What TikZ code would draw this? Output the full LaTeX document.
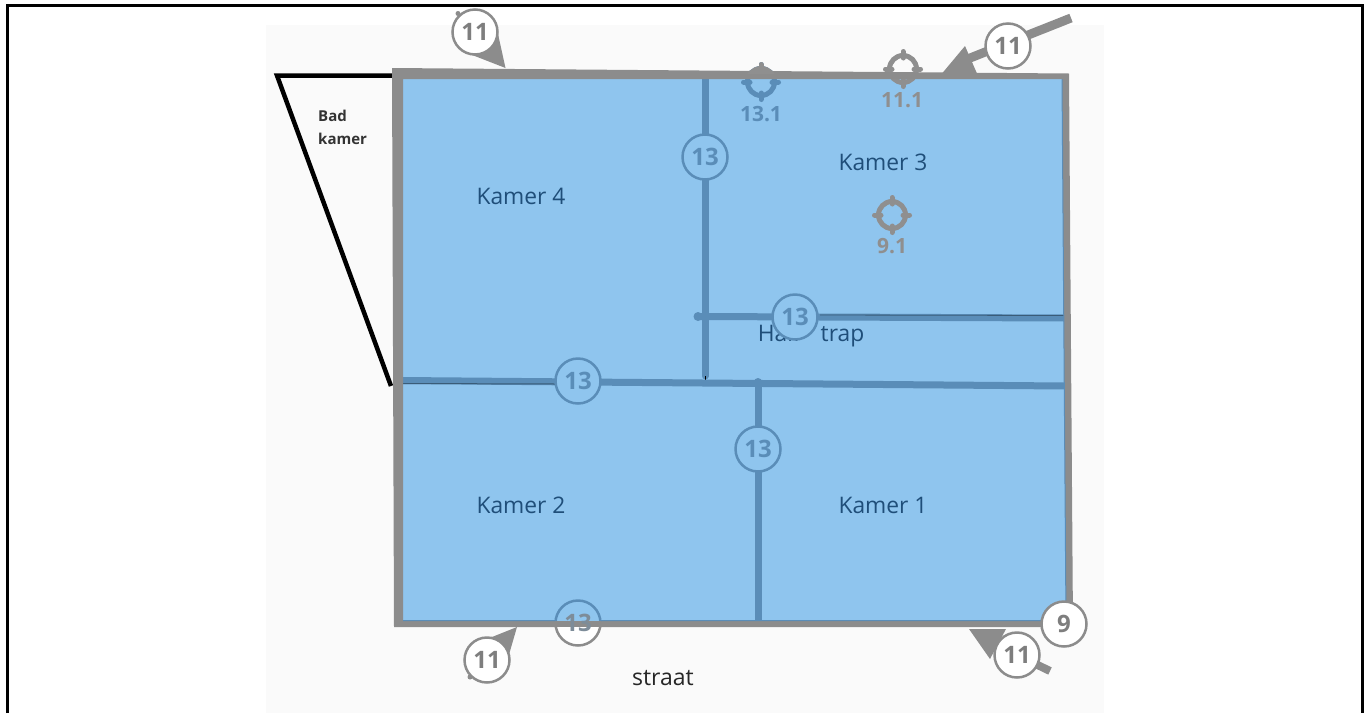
\documentclass[tikz,border=0pt]{standalone}
\usepackage{fontspec}
\setmainfont{Open Sans}
\definecolor{roomblue}{HTML}{8FC5EE}
\definecolor{linkblue}{HTML}{5A8DB8}
\definecolor{wallgrey}{HTML}{8C8C8C}
\definecolor{bggrey}{HTML}{FAFAFA}
\definecolor{roomtext}{HTML}{1F4E79}
\definecolor{crossgrey}{HTML}{8F8F8F}
\tikzset{
  bubble/.style={circle,minimum size=45pt,inner sep=0pt,line width=2.5pt,font=\fontsize{24}{24}\selectfont\bfseries},
  greybubble/.style={bubble,draw=wallgrey,fill=white,text=wallgrey!90!black},
  bluebubble/.style={bubble,draw=linkblue,fill=roomblue,text=linkblue},
  roomlabel/.style={text=roomtext,font=\fontsize{22.8}{23}\selectfont,inner sep=0pt},
  marklabel/.style={font=\fontsize{21}{21}\selectfont\bfseries,inner sep=0pt},
  partition/.style={draw=linkblue,line width=7pt},
  pointer/.style={fill=wallgrey,draw=none}
}
\newcommand{\crossmark}[2]{%
  \draw[#2,line width=5pt] (#1) circle[radius=13.5];
  \draw[#2,line width=5pt,line cap=round]
    ([yshift=-17.5]#1) -- ([yshift=-11]#1) ([yshift=17.5]#1) -- ([yshift=11]#1)
    ([xshift=-17.5]#1) -- ([xshift=-11]#1) ([xshift=17.5]#1) -- ([xshift=11]#1);}
\begin{document}
\begin{tikzpicture}[x=1pt,y=-1pt]
\useasboundingbox (0,0) rectangle (1369,713);
\fill[white] (0,0) rectangle (1369,713);
\fill[bggrey] (266,25) rectangle (1104,713);
\draw[black,line width=3pt] (7.5,713) -- (7.5,5.5) -- (1362.5,5.5) -- (1362.5,713);
% rooms
\fill[roomblue] (400,76) -- (1066,76) -- (1069,623) -- (398,623) -- cycle;
% bathroom
\draw[black,line width=4.5pt,line join=miter] (394,75.5) -- (277,75.5) -- (391,386);
% partitions
\coordinate (vtop) at (705,78); \coordinate (vbot) at (705,376);
\coordinate (htl) at (698,316.5); \coordinate (htr) at (1065,318);
\coordinate (mainl) at (402,380.5); \coordinate (mainr) at (1065,386);
\coordinate (lowt) at (758,382); \coordinate (lowb) at (758,621);
\draw[partition,line cap=round] (vtop) -- (vbot);
\draw[black,line width=.5pt] (vbot) -- (705,380);
\draw[partition] (htl) -- (htr);
\fill[linkblue] (htl) circle[radius=4.5];
\draw[partition] (mainl) -- (mainr);
\draw[linkblue!65!black,line width=1pt] (403,383.5) -- (556,384);
\draw[linkblue!65!black,line width=.8pt] (820,315) -- (1064,315.5);
\fill[linkblue] (lowt) circle[radius=4];
\draw[partition] (lowt) -- (lowb);
% marks behind wall
\coordinate (m131) at (761,82);
\coordinate (m111) at (903,69);
\coordinate (m91) at (892,215);
\crossmark{m131}{linkblue}
\crossmark{m111}{crossgrey}
\crossmark{m91}{crossgrey}
% wall
\fill[wallgrey,even odd rule]
  (392,68) -- (1069,73.5) -- (1073,627) -- (394,627) -- cycle
  (403,79) -- (1062,79) -- (1066,620.5) -- (403,620.5) -- cycle;
\draw[linkblue,line width=1pt] (1062,79) -- (1066,620.5) -- (403,620.5);
% dome of 13.1 above the wall
\begin{scope}
\clip (740,50) rectangle (782,73);
\crossmark{m131}{crossgrey}
\fill[crossgrey] (m131) circle[radius=13.5];
\end{scope}
% texts
\node[roomlabel] (k4) at (521,196) {Kamer 4};
\node[roomlabel] (k3) at (883,162) {Kamer 3};
\node[roomlabel] (k2) at (521,505) {Kamer 2};
\node[roomlabel] (k1) at (883,505) {Kamer 1};
\node[roomlabel,anchor=east] (ht) at (864.5,336) {Half\hspace{14pt} trap};
\node[marklabel,text=linkblue] (l131) at (761,114.5) {13.1};
\node[marklabel,text=crossgrey] (l111) at (902,100.5) {11.1};
\node[marklabel,text=crossgrey] (l91) at (892,246.5) {9.1};
\node[inner sep=0pt,anchor=west,text=black!80,font=\fontsize{15}{15}\selectfont\bfseries] (bad) at (318,116) {Bad};
\node[inner sep=0pt,anchor=west,text=black!80,font=\fontsize{15}{15}\selectfont\bfseries] (kam) at (318,139) {kamer};
\node[inner sep=0pt,text=black!85,font=\fontsize{23}{23}\selectfont] (str) at (663,678.5) {straat};
% pointers
\coordinate (pa) at (505.5,68);
\coordinate (pb1) at (942,73.5); \coordinate (pb2) at (965,46); \coordinate (pb3) at (977,73.5);
\coordinate (pbend) at (1071,18);
\coordinate (pc) at (517,627);
\coordinate (pd) at (990,659); \coordinate (pd1) at (969,629); \coordinate (pd2) at (1006,629);
\coordinate (pdend) at (1050,671);
\fill[pointer] (pa) -- (467,53) -- (498,34) -- cycle;
\fill[pointer] (pb1) -- (pb2) -- (pb3) -- cycle;
\draw[wallgrey,line width=9pt] (960,62) -- (pbend);
\fill[pointer] (pc) -- (492,637) -- (508,658) -- cycle;
\fill[pointer] (pd) -- (pd1) -- (pd2) -- cycle;
\draw[wallgrey,line width=8pt] (1017,655) -- (pdend);
% bubbles
\node[greybubble] (a) at (475,32) {11};
\fill[wallgrey] (458,13.5) circle[radius=2.5];
\node[greybubble] (b) at (1008,46) {11};
\node[greybubble] (c) at (487,660) {11};
\fill[wallgrey] (470,677) circle[radius=2.5];
\node[greybubble] (d) at (1017,655) {11};
\node[greybubble] (e) at (1064,624) {9};
\node[bluebubble] (f) at (705,157) {13};
\node[bluebubble] (g) at (795,317) {13};
\node[bluebubble] (h) at (578,381) {13};
\node[bluebubble] (i) at (758,449) {13};
% half-submerged 13
\node[bubble,draw=none,fill=white,text=white] (j) at (578,623) {};
\begin{scope}
\clip (540,590) rectangle (620,621);
\fill[roomblue] (j.center) circle[radius=22.5];
\draw[linkblue,line width=2.5pt] (j.center) circle[radius=22.5];
\end{scope}
\begin{scope}
\clip (540,621) rectangle (620,650);
\draw[wallgrey,line width=2.5pt] (j.center) circle[radius=22.5];
\end{scope}
\fill[wallgrey] (555,620.5) rectangle (601,627);
\node[font=\fontsize{24}{24}\selectfont\bfseries,text=wallgrey!70!linkblue,inner sep=0pt] at (j.center) {13};
\end{tikzpicture}
\end{document}
